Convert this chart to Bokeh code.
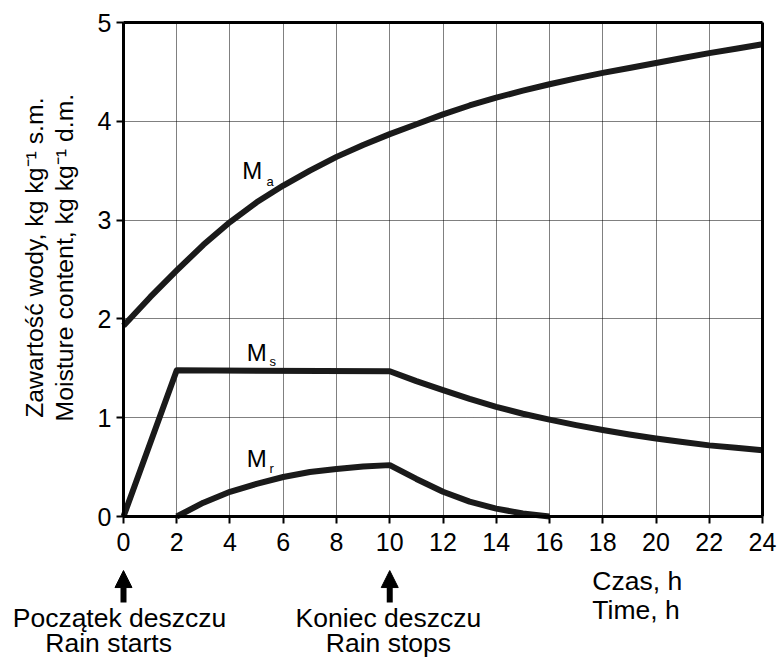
import math
from bokeh.plotting import figure
from bokeh.models import Label, Arrow, NormalHead, FixedTicker, LinearAxis, Range1d, Grid
from bokeh.embed import file_html
from bokeh.resources import INLINE

# --- data -----------------------------------------------------------------
# M_a: hourly readings over the whole day
ma_hours = list(range(25))
ma_values = [1.93, 2.22, 2.49, 2.75, 2.98, 3.18, 3.35, 3.50, 3.64, 3.76, 3.87,
             3.97, 4.07, 4.16, 4.24, 4.31, 4.375, 4.435, 4.49, 4.54, 4.59, 4.64,
             4.69, 4.735, 4.78]

# M_s: rise during first 2 h, plateau until rain stops, then decay
ms_hours = [0, 2, 10, 11, 12, 13, 14, 15, 16, 17, 18, 19, 20, 21, 22, 23, 24]
ms_values = [0.0, 1.48, 1.47, 1.37, 1.28, 1.19, 1.11, 1.04, 0.98, 0.925, 0.875,
             0.83, 0.79, 0.755, 0.72, 0.695, 0.67]

# M_r: builds up from 2 h, peaks when rain stops, gone by 16 h
mr_hours = [2, 3, 4, 5, 6, 7, 8, 9, 10, 11, 12, 13, 14, 15, 16]
mr_values = [0.0, 0.14, 0.25, 0.33, 0.40, 0.45, 0.48, 0.505, 0.52, 0.38, 0.25,
             0.15, 0.08, 0.03, 0.0]

x_ticks = list(range(0, 25, 2))
y_ticks = [0, 1, 2, 3, 4, 5]
x_lim = (0, 24)
y_lim = (0, 5)

rain_start = 0
rain_stop = 10

FONT = "Liberation Sans"
INK = "#1a1a1a"
TEXT_SIZE = "26.5px"

# The frame fills the whole canvas; the axes sit at fixed data positions so
# that the captions below and left of the box can be drawn as plain labels.
p = figure(width=781, height=658, title=None,
           x_range=Range1d(-4.6197, 24.7136), y_range=Range1d(-1.4372, 5.2227),
           x_axis_location=None, y_axis_location=None,
           output_backend="svg", toolbar_location=None, min_border=0)
p.background_fill_color = "white"
p.border_fill_color = "white"
p.outline_line_color = None
for g in p.grid:
    g.visible = False


def styled_axis(ticks, lim, loc, labels=True):
    ax = LinearAxis(ticker=FixedTicker(ticks=ticks), bounds=lim, fixed_location=loc)
    ax.axis_line_width = 3
    ax.axis_line_color = "black"
    ax.minor_tick_line_color = None
    if labels:
        ax.major_tick_line_width = 2
        ax.major_tick_line_color = "black"
        ax.major_tick_out = 7
        ax.major_tick_in = 0
        ax.major_label_text_font = FONT
        ax.major_label_text_font_size = "25px"
        ax.major_label_text_color = "black"
    else:
        ax.major_tick_line_color = None
        ax.major_label_text_alpha = 0
    return ax


x_axis = styled_axis(x_ticks, x_lim, y_lim[0])
x_axis.major_label_standoff = 9
y_axis = styled_axis(y_ticks, y_lim, x_lim[0])
y_axis.major_label_standoff = 5
p.add_layout(x_axis, "below")
p.add_layout(y_axis, "left")
p.add_layout(styled_axis(x_ticks, x_lim, y_lim[1], labels=False), "above")
p.add_layout(styled_axis(y_ticks, y_lim, x_lim[1], labels=False), "right")

# dotted grid inside the box
if "cross_bounds" in Grid.properties():
    for dim, ticks, lim, cross in ((0, x_ticks, x_lim, y_lim), (1, y_ticks, y_lim, x_lim)):
        g = Grid(dimension=dim, ticker=FixedTicker(ticks=ticks), bounds=lim,
                 cross_bounds=cross, grid_line_color="black", grid_line_dash="1 1",
                 grid_line_width=1, grid_line_alpha=1.0, level="underlay")
        p.add_layout(g)
else:
    p.segment(x0=x_ticks, y0=[y_lim[0]] * len(x_ticks), x1=x_ticks, y1=[y_lim[1]] * len(x_ticks),
              line_color="black", line_dash="1 1", line_width=1, line_alpha=1.0)
    p.segment(x0=[x_lim[0]] * len(y_ticks), y0=y_ticks, x1=[x_lim[1]] * len(y_ticks), y1=y_ticks,
              line_color="black", line_dash="1 1", line_width=1, line_alpha=1.0)

# curves
for xs, ys in ((ma_hours, ma_values), (ms_hours, ms_values), (mr_hours, mr_values)):
    p.line(xs, ys, line_width=6, line_color=INK, line_join="round")


def text(x, y, s, size=TEXT_SIZE, align="center", angle=0.0):
    p.add_layout(Label(x=x, y=y, text=s, angle=angle, text_font=FONT,
                       text_font_size=size, text_align=align,
                       text_baseline="middle", text_color="black"))


# curve names with subscripts
def curve_name(x_m, y_m, x_sub, y_sub, sub):
    text(x_m, y_m, "M", size="24px")
    text(x_sub, y_sub, sub, size="13px", align="left")


curve_name(4.84, 3.507, 5.37, 3.39, "a")
curve_name(5.0, 1.66, 5.48, 1.566, "s")
curve_name(5.0, 0.592, 5.48, 0.483, "r")

# y-axis title, two rotated lines
text(-3.34, 2.62, "Zawartość wody, kg kg⁻¹ s.m.", size="24.8px", angle=math.pi / 2)
text(-2.21, 2.62, "Moisture content, kg kg⁻¹ d.m.", size="24.8px", angle=math.pi / 2)

# x-axis title
text(17.61, -0.648, "Czas, h", align="left")
text(17.61, -0.946, "Time, h", align="left")

# rain start / stop markers
for t, line1, line2, off1, off2 in ((rain_start, "Początek deszczu", "Rain starts", -0.15, -0.56),
                                    (rain_stop, "Koniec deszczu", "Rain stops", -0.05, -0.05)):
    p.add_layout(Arrow(x_start=t, y_start=-0.87, x_end=t, y_end=-0.547,
                       line_width=6, line_color="black",
                       end=NormalHead(size=17, fill_color="black",
                                      line_color="black", line_width=1)))
    text(t + off1, -1.025, line1)
    text(t + off2, -1.285, line2)

open("out.html", "w").write(file_html(p, INLINE))
